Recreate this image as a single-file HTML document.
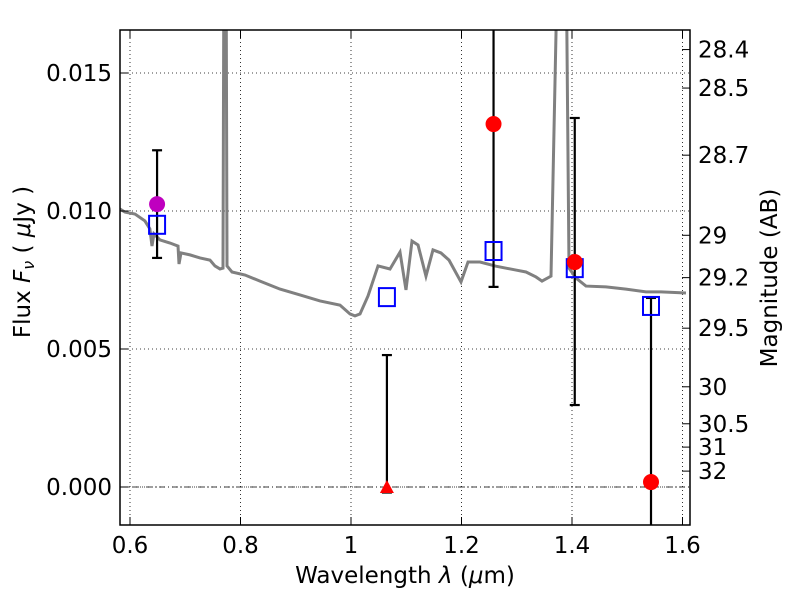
<!DOCTYPE html>
<html><head><meta charset="utf-8"><style>
body{margin:0;background:#fff;}
svg{font-family:"DejaVu Sans","Liberation Sans",sans-serif;}
</style></head><body>
<svg id="c" width="800" height="600"></svg>
<script>
const specX=[0.5819,0.591,0.609,0.627,0.636,0.6398,0.6434,0.6543,0.6724,0.6869,0.6887,0.6923,0.7086,0.7267,0.7448,0.7538,0.7629,0.7683,0.7701,0.7738,0.7756,0.7846,0.8082,0.8353,0.8715,0.9077,0.9439,0.9801,0.9982,1.0072,1.0163,1.0308,1.0489,1.0706,1.0887,1.0995,1.1104,1.1213,1.1357,1.1484,1.1629,1.1774,1.1991,1.2118,1.2335,1.2624,1.2986,1.3167,1.3348,1.3457,1.362,1.3747,1.3891,1.3946,1.4072,1.4253,1.4615,1.4796,1.4977,1.5339,1.561,1.6063];
const specY=[0.01007,0.00996,0.00989,0.00964,0.00935,0.00873,0.00917,0.00895,0.00884,0.00873,0.00808,0.00848,0.00841,0.0083,0.00822,0.00801,0.0079,0.00793,0.02,0.02,0.00801,0.00779,0.00768,0.00746,0.00717,0.00696,0.00674,0.00659,0.00627,0.0062,0.00627,0.00692,0.00801,0.0079,0.00851,0.00714,0.00891,0.00877,0.00764,0.00859,0.00848,0.00822,0.00743,0.00815,0.00815,0.008,0.00786,0.00779,0.00761,0.00746,0.00764,0.02,0.02,0.00793,0.00757,0.00728,0.00725,0.00721,0.00717,0.00707,0.00707,0.00703];
const sqX=[0.649,1.065,1.258,1.405,1.543];
const sqY=[0.0095,0.00688,0.00855,0.00793,0.00656];
const purX=[0.649],purY=[0.01025],purLo=[0.0083],purHi=[0.0122];
const redX=[1.258,1.405,1.543],redY=[0.01315,0.00815,0.00018],redLo=[0.00725,0.00297,-0.003],redHi=[0.03,0.01337,0.00685];
const triX=[1.065],triY=[0],triLo=[-0.0002],triHi=[0.00478];
const xTicks=[0.6,0.8,1.0,1.2,1.4,1.6],xLabels=["0.6","0.8","1","1.2","1.4","1.6"];
const yTicks=[0,0.005,0.01,0.015],yLabels=["0.000","0.005","0.010","0.015"];
const magTicks=[28.4,28.5,28.7,29,29.2,29.5,30,30.5,31,32],magLabels=["28.4","28.5","28.7","29","29.2","29.5","30","30.5","31","32"];

const L=120,R=690,T=30,B=525;
const X=v=>130+(v-0.6)*552.5;
const Y=v=>487-v*27600;
const svg=document.getElementById('c');
const NS='http://www.w3.org/2000/svg';
function mk(t,a,p){const e=document.createElementNS(NS,t);for(const k in a)e.setAttribute(k,a[k]);(p||svg).appendChild(e);return e;}
const defs=mk('defs',{});const cp=mk('clipPath',{id:'cp'},defs);mk('rect',{x:L,y:T,width:R-L,height:B-T},cp);
const grid=mk('g',{});
xTicks.forEach(v=>mk('line',{x1:X(v),x2:X(v),y1:T,y2:B,stroke:'#000','stroke-width':0.8,'stroke-dasharray':'1,3'},grid));
yTicks.forEach(v=>mk('line',{x1:L,x2:R,y1:Y(v),y2:Y(v),stroke:'#000','stroke-width':0.8,'stroke-dasharray':'1,3'},grid));
mk('line',{x1:L,x2:R,y1:Y(0),y2:Y(0),stroke:'#000','stroke-width':0.8,'stroke-dasharray':'6,3,1,3'},grid);
const g=mk('g',{'clip-path':'url(#cp)'});
const sp=mk('polyline',{points:specX.map((x,i)=>X(x)+','+Y(specY[i])).join(' '),fill:'none',stroke:'#808080','stroke-width':3},g);

function eb(xs,lo,hi,name){xs.forEach((x,i)=>{const e=mk('g',{},g);
mk('line',{x1:X(x),x2:X(x),y1:Y(lo[i]),y2:Y(hi[i]),stroke:'#000','stroke-width':2.2},e);
[lo[i],hi[i]].forEach(v=>mk('line',{x1:X(x)-5,x2:X(x)+5,y1:Y(v),y2:Y(v),stroke:'#000','stroke-width':2.2},e));});}
eb(purX,purLo,purHi,'error-bar');eb(redX,redLo,redHi,'error-bar');eb(triX,triLo,triHi,'error-bar');
sqX.forEach((x,i)=>{const r=mk('rect',{x:X(x)-8,y:Y(sqY[i])-9,width:16,height:18,fill:'none',stroke:'#0000ff','stroke-width':2},g);
});
purX.forEach((x,i)=>{const c=mk('circle',{cx:X(x),cy:Y(purY[i]),r:8,fill:'#bf00bf'},g);});
redX.forEach((x,i)=>{const c=mk('circle',{cx:X(x),cy:Y(redY[i]),r:8,fill:'#ff0000'},g);});
triX.forEach((x,i)=>{const cx=X(x),cy=Y(triY[i]);const p=mk('polygon',{points:`${cx},${cy-7} ${cx-7},${cy+6} ${cx+7},${cy+6}`,fill:'#ff0000'},g);});
mk('rect',{x:L,y:T,width:R-L,height:B-T,fill:'none',stroke:'#000','stroke-width':1.5});
xTicks.forEach((v,i)=>{mk('line',{x1:X(v),x2:X(v),y1:B,y2:B-8,stroke:'#000'});mk('line',{x1:X(v),x2:X(v),y1:T,y2:T+8,stroke:'#000'});
const t=mk('text',{x:X(v),y:B+28,'text-anchor':'middle','font-size':23});t.textContent=xLabels[i];});
yTicks.forEach((v,i)=>{mk('line',{x1:L,x2:L+8,y1:Y(v),y2:Y(v),stroke:'#000'});
const t=mk('text',{x:L-8,y:Y(v)+8,'text-anchor':'end','font-size':23});t.textContent=yLabels[i];});
magTicks.forEach((m,i)=>{const y=Y(Math.pow(10,(23.9-m)/2.5));mk('line',{x1:R,x2:R-8,y1:y,y2:y,stroke:'#000'});
const t=mk('text',{x:R+8,y:y+8,'font-size':23});t.textContent=magLabels[i];});
let t=mk('text',{x:405,y:583,'text-anchor':'middle','font-size':23});t.innerHTML='Wavelength  <tspan font-style="italic">λ</tspan> (<tspan font-style="italic">μ</tspan>m)';
t=mk('text',{x:0,y:0,'text-anchor':'middle','font-size':23,transform:'translate(30,262) rotate(-90)'});t.innerHTML='Flux  <tspan font-style="italic">F</tspan><tspan font-style="italic" font-size="16" dy="4">ν</tspan><tspan dy="-4">  (  </tspan><tspan font-style="italic">μ</tspan>Jy )';
t=mk('text',{x:0,y:0,'text-anchor':'middle','font-size':23,transform:'translate(777,278) rotate(-90)'});t.textContent='Magnitude (AB)';
</script>
</body></html>
